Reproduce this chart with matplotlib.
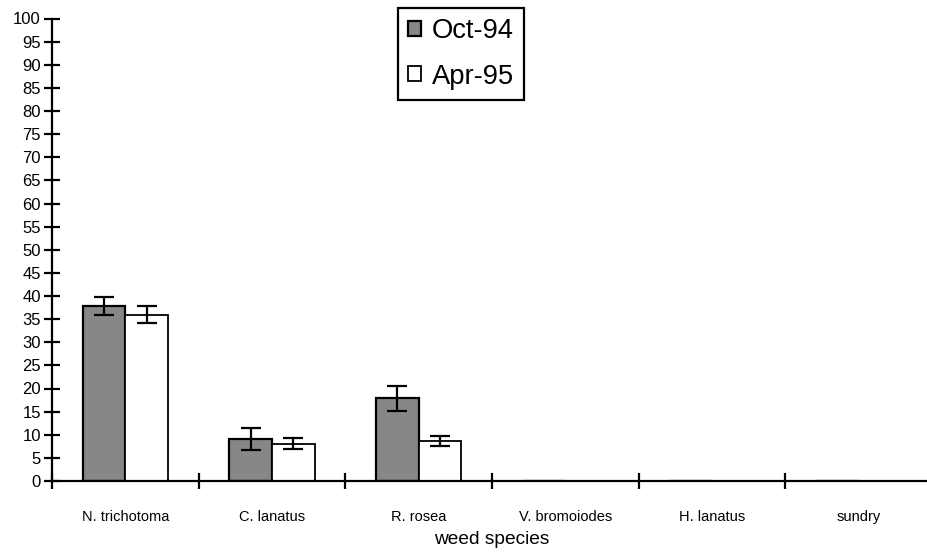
import numpy as np
import matplotlib
matplotlib.use("Agg")
import matplotlib.pyplot as plt

species = ["N. trichotoma", "C. lanatus", "R. rosea", "V. bromoiodes", "H. lanatus", "sundry"]
oct94 = [37.8, 9.1, 17.9, 0, 0, 0]
oct94_err = [1.9, 2.4, 2.7, 0, 0, 0]
apr95 = [36.0, 8.1, 8.7, 0, 0, 0]
apr95_err = [1.9, 1.2, 1.1, 0, 0, 0]
yticks = list(range(0, 101, 5))

plt.rcParams["font.family"] = ["Liberation Sans", "DejaVu Sans"]


def main():
    fig = plt.figure(figsize=(9.27, 5.56), dpi=100)
    ax = fig.add_axes([52 / 927, 75 / 556, 880 / 927, 462.5 / 556])

    x = np.arange(len(species)) + 0.5
    w = 0.29
    err_kw = dict(ecolor="black", elinewidth=1.6, capsize=7, capthick=1.6)
    ax.bar(x - w / 2, oct94, w, color="#878787", edgecolor="black", linewidth=1.6,
           label="Oct-94")
    ax.bar(x + w / 2, apr95, w, color="white", edgecolor="black", linewidth=1.3,
           label="Apr-95")
    idx = [i for i, v in enumerate(oct94) if v > 0]
    ax.errorbar(x[idx] - w / 2, [oct94[i] for i in idx], yerr=[oct94_err[i] for i in idx],
                fmt="none", **err_kw)
    ax.errorbar(x[idx] + w / 2, [apr95[i] for i in idx], yerr=[apr95_err[i] for i in idx],
                fmt="none", **err_kw)

    ax.set_xlim(0, len(species))
    ax.set_ylim(0, 100)
    ax.set_yticks(yticks)
    ax.set_yticklabels([str(t) for t in yticks], fontsize=12)
    ax.set_xticks(np.arange(len(species) + 1))
    ax.set_xticklabels([])
    ax.set_xticks(x, minor=True)
    ax.set_xticklabels(species, minor=True, fontsize=10.5)
    ax.tick_params(axis="x", which="minor", length=0, pad=21)
    ax.tick_params(axis="x", which="major", direction="inout", length=11, width=1.6)
    ax.tick_params(axis="y", direction="inout", length=12, width=1.6, pad=2)
    ax.set_xlabel("weed species", fontsize=13.8, labelpad=5)

    for s in ["top", "right"]:
        ax.spines[s].set_visible(False)
    for s in ["left", "bottom"]:
        ax.spines[s].set_linewidth(1.6)

    leg = fig.legend(loc="upper left", bbox_to_anchor=(398 / 927, 1 - 7.5 / 556),
                     fontsize=19.7, handlelength=0.45, handleheight=0.45,
                     handletextpad=0.4, labelspacing=0.72, borderpad=0.38,
                     borderaxespad=0, fancybox=False, edgecolor="black",
                     framealpha=1)
    leg.get_frame().set_linewidth(1.6)

    fig.savefig("out.png", dpi=100)


if __name__ == "__main__":
    main()
